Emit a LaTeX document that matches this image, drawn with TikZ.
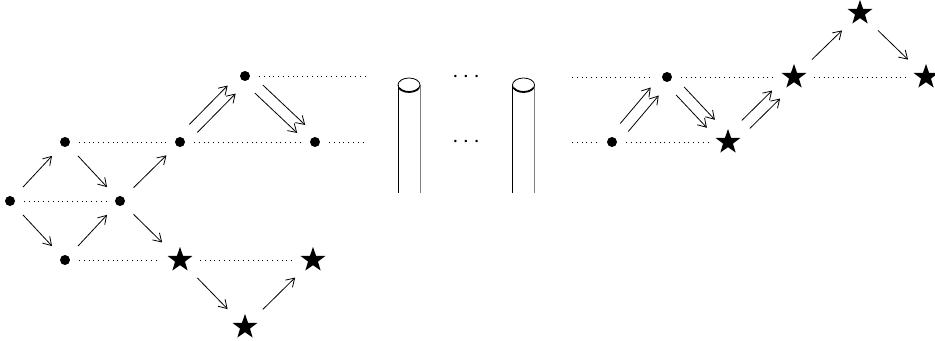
\documentclass[tikz,border=0pt]{standalone}
\usetikzlibrary{shapes.geometric,arrows.meta}

\tikzset{
    vtx/.style={circle, fill, inner sep=0pt, minimum size=5pt, outer sep=4.5pt},
    goal/.style={circle, inner sep=0pt, minimum size=11pt, outer sep=4.5pt,
        label={[star, star points=5, star point ratio=2.5, fill,
            inner sep=0pt, outer sep=0pt, minimum size=13pt]center:{}}},
    move/.style={->, >={Straight Barb[length=4pt,width=5pt]}, shorten >=2.5pt, shorten <=2.5pt},
    link/.style={dotted},
    rise1/.style={transform canvas={shift={(-2pt,2pt)}}},
    rise2/.style={transform canvas={shift={(2pt,-2pt)}}},
    fall1/.style={transform canvas={shift={(2pt,2pt)}}},
    fall2/.style={transform canvas={shift={(-2pt,-2pt)}}}
}

\begin{document}
\begin{tikzpicture}[x=0.5pt, y=-0.5pt]
    \useasboundingbox (0,0) rectangle (935,341);

    % ==========================================
    % LEFT: the start of the lattice
    % ==========================================
    \node[vtx]  (a0) at (10,201) {};
    \node[vtx]  (a1) at (65,142) {};
    \node[vtx]  (a2) at (65,260) {};
    \node[vtx]  (a3) at (120,201) {};
    \node[vtx]  (a4) at (180,142) {};
    \node[goal] (a5) at (180,260) {};
    \node[vtx]  (a6) at (245,76) {};
    \node[vtx]  (a7) at (315,142) {};
    \node[goal] (a8) at (245,327) {};
    \node[goal] (a9) at (313,260) {};
    \coordinate (a6end) at (365,76);
    \coordinate (a7end) at (365,142);

    % Dotted levels
    \draw[link] (a0) -- (a3);
    \draw[link] (a1) -- (a4);
    \draw[link] (a4) -- (a7);
    \draw[link] (a2) -- (a5);
    \draw[link] (a5) -- (a9);
    \draw[link] (a6) -- (a6end);
    \draw[link] (a7) -- (a7end);

    % Single moves
    \draw[move] (a0) -- (a1);
    \draw[move] (a0) -- (a2);
    \draw[move] (a1) -- (a3);
    \draw[move] (a2) -- (a3);
    \draw[move] (a3) -- (a4);
    \draw[move] (a3) -- (a5);
    \draw[move] (a5) -- (a8);
    \draw[move] (a8) -- (a9);

    % Double moves
    \draw[move, rise1] (a4) -- (a6);
    \draw[move, rise2] (a4) -- (a6);
    \draw[move, fall1] (a6) -- (a7);
    \draw[move, fall2] (a6) -- (a7);

    % ==========================================
    % MIDDLE: the two tubes and the gap
    % ==========================================
    \foreach \cx in {409,523.5} {
        \draw (\cx-11,193) -- (\cx-11,85);
        \draw[gray] (\cx+11,85) -- (\cx+11,193);
        \draw (\cx,85) ellipse [x radius=5.5pt, y radius=3.5pt];
        \draw[line width=0.9pt] (\cx,85) ++(205:5.5pt and 3.5pt)
            arc[start angle=205, end angle=335, x radius=5.5pt, y radius=3.5pt];
    }
    \node[font=\large] (gapT) at (466,77) {$\cdots$};
    \node[font=\large] (gapB) at (466,142) {$\cdots$};

    % ==========================================
    % RIGHT: the end of the lattice
    % ==========================================
    \node[vtx]  (b0) at (612,142) {};
    \node[vtx]  (b1) at (667,77) {};
    \node[goal] (b2) at (728,142) {};
    \node[goal] (b3) at (794,77) {};
    \node[goal] (b4) at (860,13) {};
    \node[goal] (b5) at (926,77) {};
    \coordinate (b0start) at (572,142);
    \coordinate (b1start) at (572,77);

    % Dotted levels
    \draw[link] (b0start) -- (b0);
    \draw[link] (b1start) -- (b1);
    \draw[link] (b0) -- (b2);
    \draw[link] (b1) -- (b3);
    \draw[link] (b3) -- (b5);

    % Double moves
    \draw[move, rise1] (b0) -- (b1);
    \draw[move, rise2] (b0) -- (b1);
    \draw[move, fall1] (b1) -- (b2);
    \draw[move, fall2] (b1) -- (b2);
    \draw[move, rise1] (b2) -- (b3);
    \draw[move, rise2] (b2) -- (b3);

    % Single moves
    \draw[move] (b3) -- (b4);
    \draw[move] (b4) -- (b5);

\end{tikzpicture}
\end{document}
